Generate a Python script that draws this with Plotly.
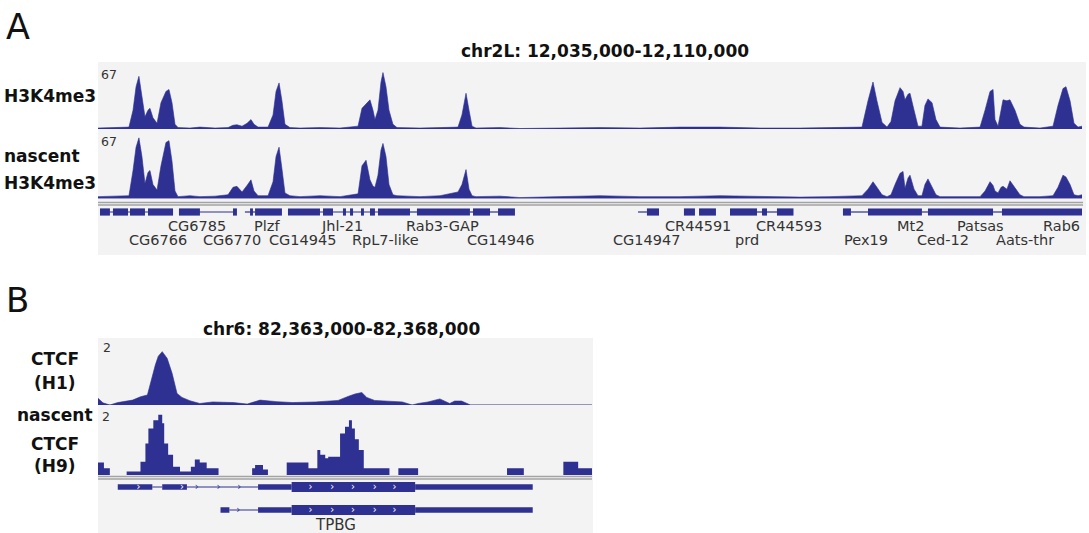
import plotly.graph_objects as go

# ---------------- Panel A data (positions: kb from chr2L:12,035,000) ----------------
a_pos = [0.00, 1.68, 2.36, 2.67, 2.90, 3.12, 3.35, 3.58, 3.81, 3.96, 4.19, 4.50, 4.80, 5.18, 5.41, 5.64,
         5.87, 6.10, 7.01, 7.77, 8.92, 9.91, 10.29, 10.59, 10.98, 11.36, 11.66, 11.89, 12.20, 12.96,
         13.34, 13.57, 13.80, 14.02, 14.25, 14.63, 15.40, 16.92, 18.45, 19.82, 20.12, 20.43, 20.73,
         20.96, 21.11, 21.34, 21.57, 21.72, 21.95, 22.18, 22.48, 22.79, 24.54, 26.07, 27.44, 27.74,
         28.05, 28.28, 28.51, 28.81, 30.64, 32.16, 35.21, 38.26, 41.31, 44.36, 47.41, 50.46, 53.51,
         55.79, 58.23, 58.69, 59.07, 59.37, 59.76, 60.14, 60.44, 60.75, 61.13, 61.36, 61.51, 61.74,
         61.89, 62.20, 62.50, 62.80, 63.03, 63.26, 63.57, 63.87, 64.18, 65.70, 67.23, 67.61, 67.99,
         68.22, 68.37, 68.60, 68.83, 68.98, 69.28, 69.51, 69.89, 70.27, 70.58, 71.80, 72.79, 73.17,
         73.55, 73.78, 74.09, 74.39, 74.70, 75.00]
h3k4me3 = [1, 1.5, 2, 20, 45, 56, 35, 13, 20, 22, 12, 6, 28, 40, 42, 28,
           5, 1.5, 1, 2, 1, 1.5, 4, 4.5, 3, 6, 10, 5, 2, 2,
           15, 40, 49, 30, 5, 1.5, 1, 1.5, 1, 3, 22, 27, 31,
           20, 10, 20, 50, 60, 45, 20, 5, 1.5, 1, 1.5, 2, 15,
           38, 20, 3, 1, 1.5, 0.5, 1, 1.5, 1, 2, 2, 1, 1,
           1.5, 2, 30, 50, 30, 7, 2, 8, 30, 44, 40, 31, 37,
           38, 20, 3, 3, 25, 32, 28, 10, 2, 1, 2, 20, 40,
           42, 10, 3, 20, 31, 30, 31, 20, 5, 2, 1, 3, 25,
           43, 45, 30, 6, 2, 3]
nascent_h3k4me3 = [2, 2.5, 3, 30, 55, 65, 45, 16, 28, 30, 15, 9, 35, 60, 62, 40,
                   8, 2, 3, 2, 2.5, 4, 12, 13, 7, 14, 20, 8, 3, 3,
                   18, 45, 55, 32, 6, 3, 2, 3, 2, 5, 35, 41, 20,
                   13, 12, 25, 52, 59, 45, 15, 4, 3, 2, 3, 7, 15,
                   31, 10, 3, 2, 2.5, 1, 2, 3, 2, 2, 3, 2, 1.5,
                   2, 3, 10, 18, 12, 4, 2, 4, 15, 27, 29, 11, 22,
                   25, 10, 3, 3, 15, 21, 12, 4, 2, 2, 2, 8, 18,
                   14, 8, 6, 12, 13, 10, 19, 12, 4, 2, 2, 3, 12,
                   25, 23, 15, 4, 3, 4]

a_exon_start = [0.15, 1.14, 2.44, 3.81, 6.17, 10.29, 11.59, 11.97, 14.48, 17.15, 18.67, 19.21, 20.12, 20.73,
                21.34, 24.31, 28.58, 30.49, 41.84, 44.66, 45.81, 48.17, 50.61, 51.75, 56.78, 58.69, 63.26, 68.90]
a_exon_end = [0.91, 2.29, 3.58, 5.72, 7.77, 10.59, 11.81, 14.02, 16.92, 17.91, 18.90, 19.44, 20.27, 21.11,
              23.78, 28.35, 29.88, 31.78, 42.76, 45.50, 47.10, 50.23, 50.99, 53.01, 57.39, 62.80, 68.22, 75.00]
a_intron_start = [0.15, 6.17, 11.20, 16.92, 23.78, 28.35, 41.16, 50.23, 57.39, 62.80, 68.22]
a_intron_end = [5.72, 10.29, 11.97, 21.34, 24.31, 30.49, 41.84, 51.75, 58.69, 63.26, 68.90]

a_genes_row1 = ["CG6785", "Plzf", "Jhl-21", "Rab3-GAP", "CR44591", "CR44593", "Mt2", "Patsas", "Rab6"]
a_genes_row1_pos = [7.58, 12.88, 18.56, 26.26, 45.73, 52.63, 61.89, 67.23, 73.40]
a_genes_row2 = ["CG6766", "CG6770", "CG14945", "RpL7-like", "CG14946", "CG14947", "prd", "Pex19", "Ced-12", "Aats-thr"]
a_genes_row2_pos = [4.57, 10.18, 15.66, 21.95, 30.72, 41.84, 49.50, 58.54, 64.37, 70.66]

# ---------------- Panel B data (positions: kb from chr6:82,363,000) ----------------
b_pos = [0, 0.05, 0.12, 0.20, 0.35, 0.43, 0.50, 0.53, 0.58, 0.61, 0.65, 0.70, 0.75, 0.80, 0.85, 0.93,
         1.03, 1.16, 1.37, 1.51, 1.64, 1.81, 1.97, 2.20, 2.43, 2.53, 2.60, 2.67, 2.72, 2.80, 2.94, 3.08,
         3.18, 3.24, 3.34, 3.46, 3.56, 3.61, 3.68, 3.77, 5.0]
ctcf_h1 = [0.22, 0.07, 0.0, 0.08, 0.16, 0.27, 0.33, 0.72, 1.31, 1.6, 1.75, 1.53, 1.04, 0.38, 0.25, 0.14,
           0.05, 0.10, 0.08, 0.03, 0.16, 0.11, 0.08, 0.10, 0.15, 0.28, 0.36, 0.41, 0.25, 0.15, 0.12, 0.10,
           0.0, 0.05, 0.10, 0.20, 0.05, 0.13, 0.13, 0.0, 0.0]

b_bin_edges = [0, 0.06, 0.12, 0.29, 0.43, 0.48, 0.51, 0.56, 0.61, 0.65, 0.67, 0.71, 0.76, 0.83, 0.94,
               0.98, 1.03, 1.10, 1.22, 1.56, 1.59, 1.67, 1.72, 1.91, 2.13, 2.22, 2.25, 2.30, 2.33, 2.45,
               2.50, 2.54, 2.57, 2.60, 2.64, 2.69, 2.95, 3.04, 3.24, 4.14, 4.31, 4.71, 4.86, 5.0]
nascent_ctcf_h9 = [0.40, 0.22, 0, 0.11, 0.43, 1.02, 1.50, 1.77, 1.94, 1.67, 1.02, 0.65, 0.27, 0.11, 0.27,
                   0.50, 0.40, 0.22, 0, 0.22, 0.32, 0.18, 0, 0.40, 0.22, 0.81, 0.65, 0.54, 0.59, 1.34,
                   1.56, 1.77, 1.50, 1.15, 0.81, 0.22, 0, 0.22, 0, 0.22, 0, 0.43, 0.22]

b_utr_start = [0.20, 0.65, 1.62, 3.21, 1.24, 1.62, 3.21]
b_utr_end = [0.55, 0.90, 1.96, 4.40, 1.33, 1.96, 4.40]
b_utr_row = [1, 1, 1, 1, 0, 0, 0]
b_cds_start = [1.96, 1.96]
b_cds_end = [3.21, 3.21]
b_cds_row = [1, 0]
b_intron_start = [0.55, 0.90, 1.33]
b_intron_end = [0.65, 1.62, 1.62]
b_intron_row = [1, 1, 0]
b_exon_marks_x = [0.41, 0.85, 2.15, 2.37, 2.58, 2.80, 3.00, 2.15, 2.37, 2.58, 2.80, 3.00]
b_exon_marks_row = [1, 1, 1, 1, 1, 1, 1, 0, 0, 0, 0, 0]
b_intron_marks_x = [1.00, 1.22, 1.43, 1.42]
b_intron_marks_row = [1, 1, 1, 0]
b_gene_label = "TPBG"
b_gene_label_pos = 2.40

a_title = "chr2L: 12,035,000-12,110,000"
b_title = "chr6: 82,363,000-82,368,000"

# ---------------- styling / layout helpers ----------------
W, H = 1089, 533
BLUE = "#2e3192"
BASE = "#8a8ac6"
FONT = "DejaVu Sans"


def fx(x):
    return x / W


def fy(y):
    return 1 - y / H


fig = go.Figure()


def lines_from_segments(starts, ends, rows):
    xs, ys = [], []
    for s, e, r in zip(starts, ends, rows):
        xs += [s, e, None]
        ys += [r, r, None]
    return xs, ys


# Panel A coverage tracks
for yax, vals in (("y", h3k4me3), ("y2", nascent_h3k4me3)):
    fig.add_trace(go.Scatter(x=[a_pos[0], a_pos[-1]], y=[0, 0], mode="lines",
                             line=dict(color=BASE, width=1), xaxis="x", yaxis=yax, hoverinfo="skip"))
    fig.add_trace(go.Scatter(x=a_pos, y=vals, mode="lines", fill="tozeroy", fillcolor=BLUE,
                             line=dict(color=BLUE, width=0.6), xaxis="x", yaxis=yax))

# Panel A gene models
ix, iy = lines_from_segments(a_intron_start, a_intron_end, [0] * len(a_intron_start))
fig.add_trace(go.Scatter(x=ix, y=iy, mode="lines", line=dict(color=BLUE, width=1.2),
                         xaxis="x", yaxis="y3", hoverinfo="skip"))
fig.add_trace(go.Bar(orientation="h", base=a_exon_start,
                     x=[e - s for s, e in zip(a_exon_start, a_exon_end)],
                     y=[0] * len(a_exon_start), width=0.9, marker=dict(color=BLUE, line=dict(width=0)),
                     xaxis="x", yaxis="y3"))

# Panel B coverage tracks
fig.add_trace(go.Scatter(x=[b_pos[0], b_pos[-1]], y=[0, 0], mode="lines",
                         line=dict(color=BASE, width=1), xaxis="x2", yaxis="y4", hoverinfo="skip"))
fig.add_trace(go.Scatter(x=b_pos, y=ctcf_h1, mode="lines", fill="tozeroy", fillcolor=BLUE,
                         line=dict(color=BLUE, width=0.6), xaxis="x2", yaxis="y4"))
fig.add_trace(go.Scatter(x=b_bin_edges, y=nascent_ctcf_h9 + [nascent_ctcf_h9[-1]], mode="lines",
                         line_shape="hv", fill="tozeroy", fillcolor=BLUE,
                         line=dict(color=BLUE, width=0), xaxis="x2", yaxis="y5"))

# Panel B gene models
ix, iy = lines_from_segments(b_intron_start, b_intron_end, b_intron_row)
fig.add_trace(go.Scatter(x=ix, y=iy, mode="lines", line=dict(color=BLUE, width=1),
                         xaxis="x2", yaxis="y6", hoverinfo="skip"))
fig.add_trace(go.Bar(orientation="h", base=b_utr_start, x=[e - s for s, e in zip(b_utr_start, b_utr_end)],
                     y=b_utr_row, width=0.24, marker=dict(color=BLUE, line=dict(width=0)),
                     xaxis="x2", yaxis="y6"))
fig.add_trace(go.Bar(orientation="h", base=b_cds_start, x=[e - s for s, e in zip(b_cds_start, b_cds_end)],
                     y=b_cds_row, width=0.44, marker=dict(color=BLUE, line=dict(width=0)),
                     xaxis="x2", yaxis="y6"))
fig.add_trace(go.Scatter(x=b_exon_marks_x, y=b_exon_marks_row, mode="text", text=["›"] * len(b_exon_marks_x),
                         textfont=dict(color="white", size=10, family=FONT), xaxis="x2", yaxis="y6",
                         hoverinfo="skip"))
fig.add_trace(go.Scatter(x=b_intron_marks_x, y=b_intron_marks_row, mode="text",
                         text=["›"] * len(b_intron_marks_x),
                         textfont=dict(color=BLUE, size=10, family=FONT), xaxis="x2", yaxis="y6",
                         hoverinfo="skip"))

hidden = dict(visible=False, showgrid=False, zeroline=False, fixedrange=True)
fig.update_layout(
    width=W, height=H, margin=dict(l=0, r=0, t=0, b=0),
    paper_bgcolor="white", plot_bgcolor="rgba(0,0,0,0)",
    showlegend=False, barmode="overlay",
    xaxis=dict(domain=[fx(98), fx(1082)], range=[0, 75], anchor="y", **hidden),
    yaxis=dict(domain=[fy(129), fy(66)], range=[0, 67], anchor="x", **hidden),
    yaxis2=dict(domain=[fy(198.5), fy(136)], range=[0, 67], anchor="x", **hidden),
    yaxis3=dict(domain=[fy(220), fy(204)], range=[-1, 1], anchor="x", **hidden),
    xaxis2=dict(domain=[fx(98), fx(592)], range=[0, 5], anchor="y4", **hidden),
    yaxis4=dict(domain=[fy(405), fy(344)], range=[0, 2], anchor="x2", **hidden),
    yaxis5=dict(domain=[fy(475), fy(413)], range=[0, 2], anchor="x2", **hidden),
    yaxis6=dict(domain=[fy(521.5), fy(475.5)], range=[-0.5, 1.5], anchor="x2", **hidden),
)

shapes = [
    dict(type="rect", xref="paper", yref="paper", x0=fx(98), x1=fx(1086), y0=fy(255), y1=fy(62),
         fillcolor="#f3f3f3", line=dict(width=0), layer="below"),
    dict(type="rect", xref="paper", yref="paper", x0=fx(98), x1=fx(593), y0=fy(533), y1=fy(338),
         fillcolor="#f3f3f3", line=dict(width=0), layer="below"),
]
for yy in (202.5, 205):
    shapes.append(dict(type="line", xref="paper", yref="paper", x0=fx(98), x1=fx(1083), y0=fy(yy), y1=fy(yy),
                       line=dict(color="#a3a3a3", width=1.3)))
for yy in (476.5, 479):
    shapes.append(dict(type="line", xref="paper", yref="paper", x0=fx(98), x1=fx(592), y0=fy(yy), y1=fy(yy),
                       line=dict(color="#a3a3a3", width=1.3)))
fig.update_layout(shapes=shapes)

ann = []


def label(text, x, y, size, bold=False, xanchor="left", color="#111111", xref="paper"):
    ann.append(dict(text=text, x=x if xref != "paper" else fx(x), y=fy(y), xref=xref, yref="paper",
                    xanchor=xanchor, yanchor="middle", showarrow=False,
                    font=dict(family=FONT, size=size, color=color, weight="bold" if bold else "normal")))


label("A", 4, 27, 35)
label(a_title, 605, 51.5, 17, bold=True, xanchor="center")
label("67", 99, 75, 12.5, color="#333333")
label("H3K4me3", 2, 95.5, 17, bold=True)
label("67", 99, 142, 12.5, color="#333333")
label("nascent", 2, 156.5, 17, bold=True)
label("H3K4me3", 2, 182.5, 17, bold=True)
for name, pos in zip(a_genes_row1, a_genes_row1_pos):
    label(name, pos, 225.5, 14.5, xanchor="center", color="#333333", xref="x")
for name, pos in zip(a_genes_row2, a_genes_row2_pos):
    label(name, pos, 239.5, 14.5, xanchor="center", color="#333333", xref="x")

label("B", 4, 300, 34)
label(b_title, 341, 329, 17, bold=True, xanchor="center")
label("2", 101, 347.5, 12.5, color="#333333")
label("CTCF", 54.5, 358.5, 17, bold=True, xanchor="center")
label("(H1)", 54.5, 382.5, 17, bold=True, xanchor="center")
label("nascent", 54.5, 415, 17, bold=True, xanchor="center")
label("2", 100, 416, 12.5, color="#333333")
label("CTCF", 54.5, 443.5, 17, bold=True, xanchor="center")
label("(H9)", 54.5, 465.5, 17, bold=True, xanchor="center")
label(b_gene_label, b_gene_label_pos, 524.5, 15, xanchor="center", color="#333333", xref="x2")
fig.update_layout(annotations=ann)

# the page's default 8px body margin would shift the whole figure; remove it
fig.write_html("out.html", config={"displayModeBar": False},
               post_script="document.body.style.margin='0';")
